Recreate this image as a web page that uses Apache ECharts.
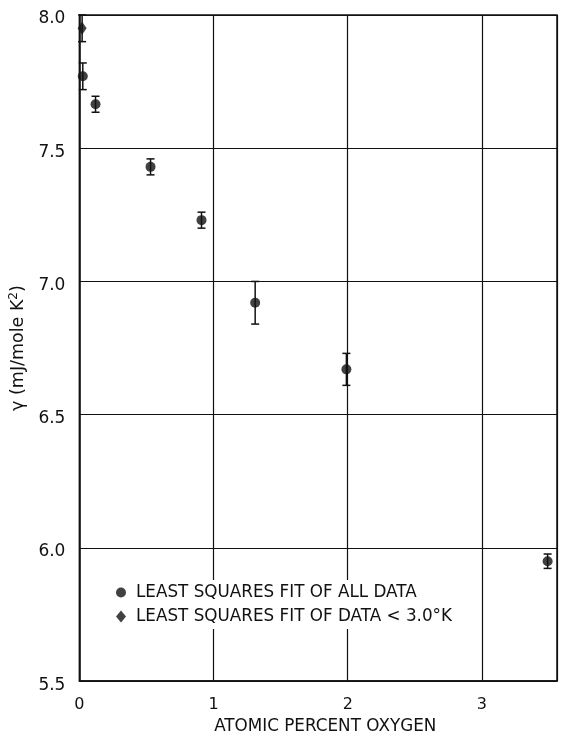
<!DOCTYPE html>
<html>
<head>
<meta charset="utf-8">
<script src="https://cdn.jsdelivr.net/npm/echarts@6/dist/echarts.min.js"></script>
<style>
html,body{margin:0;padding:0;background:#fff;}
#c{width:561px;height:740px;}
</style>
</head>
<body>
<div id="c"></div>
<script>
// Least squares fit of all data (circles)
const xAll = [0.025, 0.12, 0.53, 0.91, 1.31, 1.99, 3.49];
const yAll = [7.77, 7.665, 7.43, 7.23, 6.92, 6.67, 5.95];
const errAll = [0.05, 0.03, 0.03, 0.03, 0.08, 0.06, 0.027];
// Least squares fit of data < 3.0 K (diamonds)
const xLow = [0.02];
const yLow = [7.95];
const errLow = [0.05];

const xTicks = [0, 1, 2, 3];
const yTicks = [5.5, 6.0, 6.5, 7.0, 7.5, 8.0];

const allData = xAll.map((x, i) => [x, yAll[i]]);
const lowData = xLow.map((x, i) => [x, yLow[i]]);
const errData = xAll.map((x, i) => [x, yAll[i] - errAll[i], yAll[i] + errAll[i]])
  .concat(xLow.map((x, i) => [x, yLow[i] - errLow[i], yLow[i] + errLow[i]]));

const chart = echarts.init(document.getElementById('c'), null, {renderer: 'canvas'});
const font = 'DejaVu Sans, Liberation Sans, sans-serif';

chart.setOption({
  backgroundColor: '#fff',
  animation: false,
  grid: {left: 78, right: 4, top: 15, bottom: 50, show: true, borderColor: '#111', borderWidth: 1.5},
  xAxis: {
    type: 'value', min: 0, max: 3.56, interval: 1,
    axisLine: {show: true, lineStyle: {color: '#111', width: 1.5}},
    axisTick: {show: false},
    splitLine: {show: true, lineStyle: {color: '#111', width: 1.2}},
    axisLabel: {color: '#111', fontSize: 16, fontFamily: font, margin: 16,
      formatter: v => xTicks.includes(v) ? String(v) : ''},
    name: 'ATOMIC PERCENT OXYGEN', nameLocation: 'middle', nameGap: 36,
    nameTextStyle: {color: '#111', fontSize: 16.8, fontFamily: font, padding: [0, 0, 0, 14]}
  },
  yAxis: {
    type: 'value', min: 5.5, max: 8.0, interval: 0.5,
    axisLine: {show: true, lineStyle: {color: '#111', width: 1.5}},
    axisTick: {show: false},
    splitLine: {show: true, lineStyle: {color: '#111', width: 1.2}},
    axisLabel: {margin: 14,
      formatter: v => yTicks.includes(v) ? '{v|' + v.toFixed(1) + '}' : '',
      rich: {v: {color: '#111', fontSize: 17, fontFamily: font, padding: [8, 0, 0, 0]}}
    },
    name: '{a|γ (mJ/mole K}{s|2}{a|)}', nameLocation: 'middle', nameGap: 43,
    nameTextStyle: {
      rich: {
        a: {color: '#111', fontSize: 17.5, fontFamily: font},
        s: {color: '#111', fontSize: 12, fontFamily: font, verticalAlign: 'top', padding: [0, 0, 9, 0]}
      }
    }
  },
  legend: {
    left: 112, top: 580, orient: 'vertical', itemGap: 7,
    backgroundColor: '#fff', padding: [4, 6, 4, 4],
    itemWidth: 10, itemHeight: 12,
    textStyle: {color: '#111', fontSize: 16.8, fontFamily: font, padding: [0, 0, 0, 5]},
    data: [
      {name: 'LEAST SQUARES FIT OF ALL DATA', icon: 'circle'},
      {name: 'LEAST SQUARES FIT OF DATA < 3.0°K', icon: 'diamond'}
    ]
  },
  series: [
    {
      type: 'custom', name: 'err', silent: true, clip: false,
      data: errData,
      renderItem: function (params, api) {
        const x = api.value(0);
        const lo = api.coord([x, api.value(1)]);
        const hi = api.coord([x, api.value(2)]);
        const w = 4;
        const st = {stroke: '#111', lineWidth: 1.5};
        return {
          type: 'group',
          children: [
            {type: 'line', shape: {x1: lo[0], y1: lo[1], x2: hi[0], y2: hi[1]}, style: st},
            {type: 'line', shape: {x1: lo[0] - w, y1: lo[1], x2: lo[0] + w, y2: lo[1]}, style: st},
            {type: 'line', shape: {x1: hi[0] - w, y1: hi[1], x2: hi[0] + w, y2: hi[1]}, style: st}
          ]
        };
      }
    },
    {
      type: 'scatter', name: 'LEAST SQUARES FIT OF ALL DATA', clip: false,
      symbol: 'circle', symbolSize: 10, data: allData,
      itemStyle: {color: '#111'}
    },
    {
      type: 'scatter', name: 'LEAST SQUARES FIT OF DATA < 3.0°K', clip: false,
      symbol: 'diamond', symbolSize: [9, 13], data: lowData,
      itemStyle: {color: '#111'}
    }
  ]
});
</script>
</body>
</html>
